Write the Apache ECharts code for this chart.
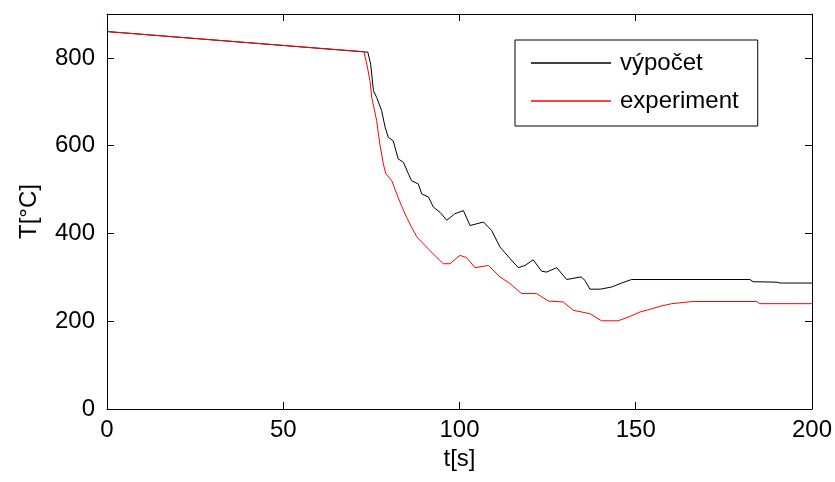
<!DOCTYPE html>
<html><head><meta charset="utf-8">
<script src="https://cdn.jsdelivr.net/npm/echarts@6/dist/echarts.min.js"></script>
<style>html,body{margin:0;padding:0;background:#fff}#c{width:835px;height:482px}</style>
</head><body><div id="c"></div>
<script>
const seriesNames = ['výpočet', 'experiment'];
const xTicks = [0, 50, 100, 150, 200];
const yTicks = [0, 200, 400, 600, 800];
const vypocet = [
  [0,860],[74,813],[74.8,786],[75.6,725],[76.5,710],[77.9,680],[78.9,642],[79.8,619],[81.2,611],
  [82.6,570],[84.1,562],[85.5,536],[86.4,520],[88.3,513],[89.3,490],[91.2,483],[92.6,460],
  [94.5,448],[96.4,430],[98.7,445],[101.1,452],[103,418],[106.8,426],[109.1,407],[111.5,369],
  [114.3,343],[116.7,322],[118.6,327],[120.9,340],[123.3,314],[124.7,312],[127.6,322],[130.4,295],
  [134.5,301],[135.6,293],[137,273],[139.9,273],[143.2,278],[146,287],[148.8,295],[182.4,295],
  [183.3,290],[190,289],[191,287],[200,287]
];
const experiment = [
  [0,860],[72.9,814],[73.7,786],[74.6,748],[75.1,710],[76.5,657],[77.4,604],[78.4,558],[79.1,536],
  [80.8,520],[82.2,490],[83.6,462],[85,437],[86.4,414],[87.9,392],[91.6,361],[95.4,331],[97.3,331],
  [100.1,350],[102,345],[104.4,322],[108.2,327],[111.5,301],[114.3,286],[117.6,263],[121.9,263],
  [125.2,246],[129.4,244],[132.3,225],[137,217],[140.3,201],[145,201],[148.4,211],[151.2,221],
  [154,227],[156.9,234],[160.2,240],[166.3,245],[184.3,245],[185.2,240],[200,240]
];
const font = '"Liberation Sans", Arial, sans-serif';
const chart = echarts.init(document.getElementById('c'));
function mkAxis(pos, ticks, min, max, interval, showLabel, extra) {
  const a = {
    type: 'value', min: min, max: max, interval: interval, position: pos, z: 10,
    axisLine: {show: true, onZero: false, lineStyle: {color: '#000', width: 1}},
    axisTick: {show: true, inside: true, length: 7, lineStyle: {color: '#000', width: 1}},
    axisLabel: {show: showLabel, fontFamily: font, fontSize: 24, color: '#000',
      formatter: v => (ticks.indexOf(v) >= 0 ? String(v) : '')},
    splitLine: {show: false}
  };
  return Object.assign(a, extra || {});
}
const xb = mkAxis('bottom', xTicks, 0, 200, 50, true, {
  name: 't[s]', nameLocation: 'middle', nameGap: 36,
  nameTextStyle: {fontFamily: font, fontSize: 24, color: '#000'}});
xb.axisLabel.margin = 9;
const xt = mkAxis('top', xTicks, 0, 200, 50, false);
const yl = mkAxis('left', yTicks, 0, 900, 200, true, {
  name: 'T[°C]', nameLocation: 'middle', nameGap: 66,
  nameTextStyle: {fontFamily: font, fontSize: 24, color: '#000'}});
yl.axisLabel.margin = 12;
const yr = mkAxis('right', yTicks, 0, 900, 200, false);
chart.setOption({
  animation: false,
  grid: {left: 107, right: 23, top: 14, bottom: 73},
  legend: {
    data: seriesNames.map(n => ({name: n, icon: 'rect'})),
    orient: 'vertical',
    left: 515, top: 40,
    itemWidth: 80, itemHeight: 1.5, itemGap: 14,
    padding: [11, 19, 13, 16],
    borderColor: '#000', borderWidth: 1,
    backgroundColor: '#fff',
    textStyle: {fontFamily: font, fontSize: 24, color: '#000', lineHeight: 24, padding: [0,0,0,4]}
  },
  xAxis: [xb, xt],
  yAxis: [yl, yr],
  series: [
    {name: seriesNames[0], type: 'line', data: vypocet, symbol: 'none', showSymbol: false,
      lineStyle: {color: '#000', width: 1}, itemStyle: {color: '#000'}},
    {name: seriesNames[1], type: 'line', data: experiment, symbol: 'none', showSymbol: false,
      lineStyle: {color: '#ff0000', width: 1}, itemStyle: {color: '#ff0000'}}
  ]
});
</script></body></html>
